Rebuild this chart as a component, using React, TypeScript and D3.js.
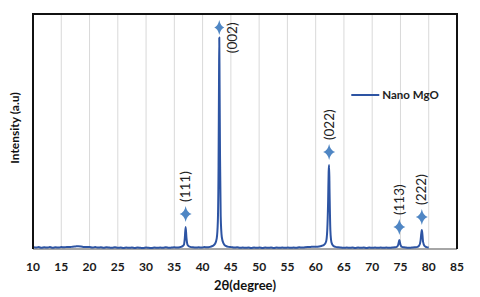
import React, { useEffect, useRef } from "react";
import * as d3 from "d3";

// 2θ positions (degree) and intensity (a.u., 0-100 scale)
const twoTheta = [
  10, 10.5, 11, 11.5, 12, 12.5, 13, 13.5, 14, 14.5, 15, 15.5, 16, 16.5, 17, 17.5,
  18, 18.5, 19, 19.5, 20, 20.5, 21, 21.5, 22, 22.5, 23, 23.5, 24, 24.5, 25, 25.5,
  26, 26.5, 27, 27.5, 28, 28.5, 29, 29.5, 30, 30.5, 31, 31.5, 32, 32.5, 33, 33.5,
  34, 34.5, 35, 35.5, 36, 36.3, 36.7, 36.85, 37.0, 37.15, 37.35, 37.8, 38.3, 38.8,
  39.3, 39.8, 40.3, 40.8, 41.3, 41.8, 42.2, 42.5, 42.7, 42.82, 42.9, 42.95, 43.0,
  43.08, 43.2, 43.4, 43.7, 44.1, 44.6, 45.1, 45.6, 46.1, 46.6, 47.1, 47.6, 48.1,
  48.6, 49.1, 49.6, 50.1, 50.6, 51.1, 51.6, 52.1, 52.6, 53.1, 53.6, 54.1, 54.6,
  55.1, 55.6, 56.1, 56.6, 57.1, 57.6, 58.1, 58.6, 59.1, 59.6, 60.1, 60.6, 61.0,
  61.5, 61.85, 62.05, 62.2, 62.3, 62.38, 62.46, 62.6, 62.8, 63.1, 63.5, 64.0, 64.5,
  65.0, 65.5, 66.0, 66.5, 67.0, 67.5, 68.0, 68.5, 69.0, 69.5, 70.0, 70.5, 71.0,
  71.5, 72.0, 72.5, 73.0, 73.5, 74.0, 74.35, 74.6, 74.8, 75.0, 75.25, 75.6, 76.0,
  76.5, 77.0, 77.5, 77.9, 78.3, 78.55, 78.68, 78.78, 78.88, 79.0, 79.25, 79.6, 80.0,
];
const intensity = [
  0.9, 0.6, 0.8, 0.5, 0.7, 0.6, 0.8, 0.5, 0.7, 0.6, 0.8, 0.7, 0.9, 0.8, 1.0, 1.1,
  1.2, 1.1, 0.9, 0.8, 0.9, 0.6, 0.8, 0.6, 0.7, 0.5, 0.7, 0.6, 0.5, 0.7, 0.5, 0.6,
  0.4, 0.6, 0.5, 0.6, 0.4, 0.6, 0.5, 0.4, 0.6, 0.5, 0.4, 0.6, 0.5, 0.6, 0.5, 0.7,
  0.5, 0.6, 0.7, 0.6, 0.8, 1.0, 1.8, 4.5, 9.4, 4.6, 1.7, 0.9, 0.7, 0.6,
  0.7, 0.6, 0.8, 0.7, 0.9, 1.3, 2.2, 4.5, 12, 35, 70, 90, 72,
  40, 14, 5, 2.4, 1.3, 0.9, 0.8, 0.6, 0.7, 0.5, 0.6, 0.5, 0.6,
  0.4, 0.6, 0.5, 0.6, 0.4, 0.6, 0.5, 0.6, 0.4, 0.6, 0.5, 0.6, 0.5,
  0.6, 0.5, 0.6, 0.5, 0.7, 0.6, 0.7, 0.8, 0.9, 1.0, 1.0, 1.1, 1.3,
  1.8, 3.2, 8, 20, 33, 35.7, 24, 8, 2.8, 1.4, 0.9, 0.7, 0.6,
  0.5, 0.6, 0.5, 0.6, 0.4, 0.6, 0.5, 0.6, 0.4, 0.6, 0.5, 0.6, 0.5,
  0.6, 0.5, 0.6, 0.5, 0.6, 0.7, 0.9, 1.8, 3.8, 1.8, 0.9, 0.7, 0.6,
  0.5, 0.6, 0.7, 0.8, 1.4, 3.5, 6.5, 8.1, 6.2, 3, 1.3, 0.8, 0.6,
];

// Miller index labels on the peaks
const peakLabels = ["(111)", "(002)", "(022)", "(113)", "(222)"];
const peakPos = [37.0, 42.95, 62.38, 74.8, 78.78];
const peakTop = [9.4, 90, 35.7, 3.8, 8.1];

const xTicks = [10, 15, 20, 25, 30, 35, 40, 45, 50, 55, 60, 65, 70, 75, 80, 85];

const LINE = "#2d54a3";
const STAR = "#4f86c4";
const FONT = "Lato, 'Open Sans', sans-serif";

// 4-point star path centred on 0,0
const starPath = (w: number, h: number) => {
  const a = w / 2;
  const b = h / 2;
  const k = 1.3;
  return `M0,${-b} Q${k},${-k} ${a},0 Q${k},${k} 0,${b} Q${-k},${k} ${-a},0 Q${-k},${-k} 0,${-b}Z`;
};

export default function App() {
  const svgRef = useRef<SVGSVGElement>(null);

  useEffect(() => {
    const W = 480;
    const H = 297;
    const margin = { top: 14, right: 23, bottom: 48, left: 33 };
    const width = W - margin.left - margin.right;
    const height = H - margin.top - margin.bottom;

    const root = d3.select(svgRef.current);
    root.selectAll("*").remove();
    root.attr("width", W).attr("height", H);

    const svg = root
      .append("g")
      .attr("transform", `translate(${margin.left},${margin.top})`);

    const x = d3.scaleLinear().domain([10, 85]).range([0, width]);
    const y = d3.scaleLinear().domain([0, 100]).range([height, 0]);

    // vertical gridlines
    svg
      .append("g")
      .selectAll("line")
      .data(xTicks.slice(1, -1))
      .join("line")
      .attr("x1", (d) => x(d))
      .attr("x2", (d) => x(d))
      .attr("y1", 0)
      .attr("y2", height)
      .attr("stroke", "#d9d9d9")
      .attr("stroke-width", 1);

    // bottom axis line (grey)
    svg
      .append("line")
      .attr("x1", 0)
      .attr("x2", width)
      .attr("y1", height)
      .attr("y2", height)
      .attr("stroke", "#a6a6a6")
      .attr("stroke-width", 2);

    // tick labels
    svg
      .append("g")
      .selectAll("text")
      .data(xTicks)
      .join("text")
      .attr("x", (d) => x(d))
      .attr("y", height + 22)
      .attr("text-anchor", "middle")
      .attr("font-family", FONT)
      .attr("font-weight", "bold")
      .attr("font-size", 12)
      .attr("fill", "#1a1a1a")
      .text((d) => d);

    // pattern
    const pts = twoTheta.map((t, i) => [t, intensity[i]] as [number, number]);
    const line = d3
      .line<[number, number]>()
      .x((d) => x(d[0]))
      .y((d) => y(d[1]))
      .curve(d3.curveMonotoneX);

    svg
      .append("path")
      .datum(pts)
      .attr("d", line)
      .attr("fill", "none")
      .attr("stroke", LINE)
      .attr("stroke-width", 2)
      .attr("stroke-linejoin", "round");

    // frame: top, left, right in black
    svg
      .append("path")
      .attr("d", `M0,${height} V0 H${width} V${height}`)
      .attr("fill", "none")
      .attr("stroke", "#111")
      .attr("stroke-width", 2);

    // stars and peak labels
    peakLabels.forEach((lab, i) => {
      const px = x(peakPos[i]);
      const sy = y(peakTop[i]) - (i === 1 ? 10 : 13);
      svg
        .append("path")
        .attr("transform", `translate(${px},${sy})`)
        .attr("d", starPath(i === 1 ? 10 : 12, i === 1 ? 15 : 16))
        .attr("fill", STAR);

      // (002) sits beside its star, the others above
      const lx = i === 1 ? px + 13 : px;
      const ly = i === 1 ? sy - 5 : sy - 12;
      svg
        .append("text")
        .attr("transform", `translate(${lx + 4.5},${ly}) rotate(-90)`)
        .attr("text-anchor", i === 1 ? "end" : "start")
        .attr("font-family", FONT)
        .attr("font-size", 13.5)
        .attr("fill", "#222")
        .text(lab);
    });

    // legend
    const lg = svg.append("g").attr("transform", `translate(${x(66.3)},${81})`);
    lg.append("line")
      .attr("x1", 0)
      .attr("x2", 28)
      .attr("stroke", LINE)
      .attr("stroke-width", 2);
    lg.append("text")
      .attr("x", 31)
      .attr("y", 4)
      .attr("font-family", FONT)
      .attr("font-weight", "bold")
      .attr("font-size", 11.5)
      .attr("fill", "#222")
      .text("Nano MgO");

    // axis titles
    root
      .append("text")
      .attr("x", margin.left + width / 2)
      .attr("y", 290)
      .attr("text-anchor", "middle")
      .attr("font-family", FONT)
      .attr("font-weight", "bold")
      .attr("font-size", 13)
      .attr("fill", "#111")
      .text("2θ(degree)");

    root
      .append("text")
      .attr("transform", `translate(19,128) rotate(-90)`)
      .attr("text-anchor", "middle")
      .attr("font-family", FONT)
      .attr("font-weight", "bold")
      .attr("font-size", 12)
      .attr("fill", "#111")
      .text("Intensity (a.u)");
  }, []);

  return (
    <svg
      ref={svgRef}
      style={{ position: "absolute", left: 0, top: 0, background: "#fff" }}
    />
  );
}
